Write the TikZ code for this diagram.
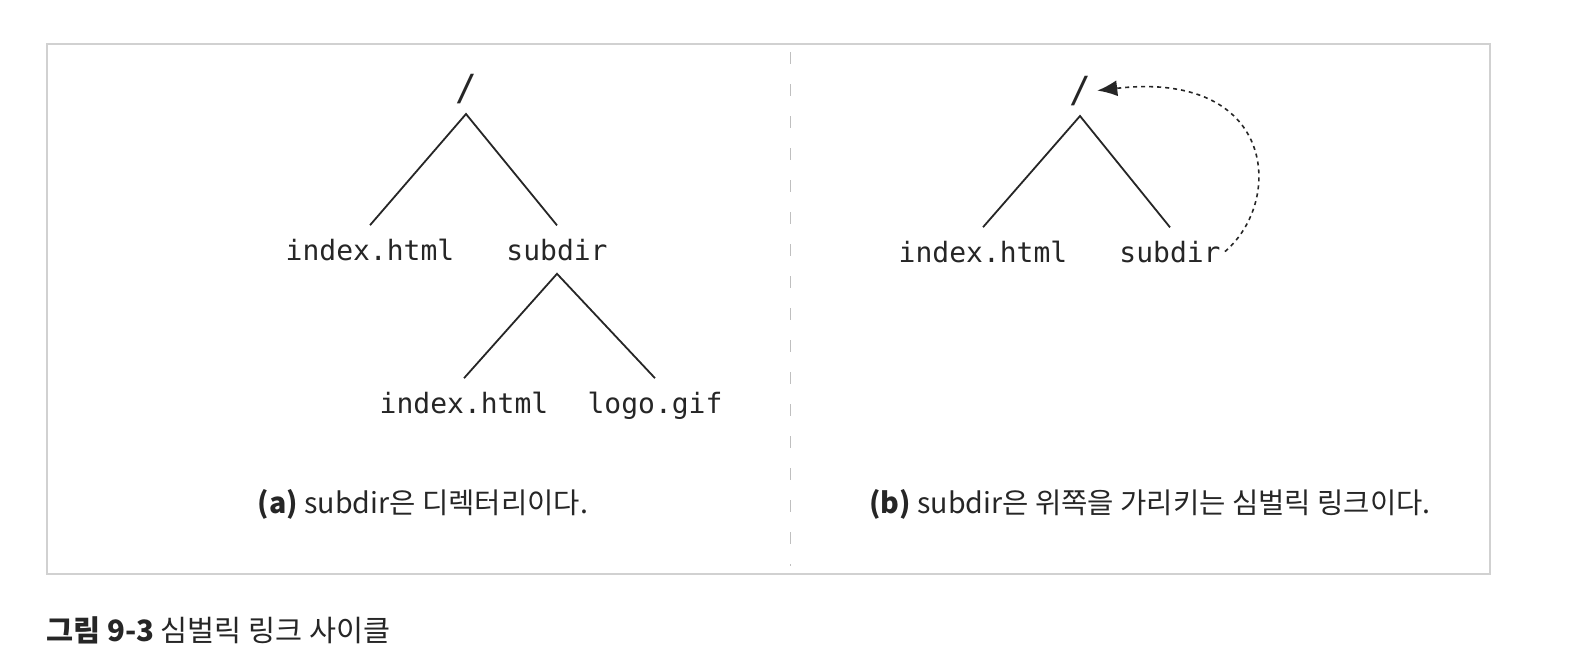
\documentclass[tikz,border=0pt]{standalone}
\usepackage{fontspec}
\usepackage{tikz}
\usetikzlibrary{arrows.meta,positioning}
\setmainfont{Noto Sans CJK KR}
\newfontfamily\codefont{DejaVu Sans Mono}

\tikzset{
  root/.style={font=\codefont\fontsize{18}{18}\selectfont, text=black!85, anchor=south, inner xsep=2pt, inner ysep=5pt},
  file/.style={font=\codefont\fontsize{14}{14}\selectfont, text=black!85, anchor=base, inner xsep=2pt, inner ysep=6.5pt},
  branch/.style={draw=black!85, line width=0.9pt},
  link/.style={draw=black!85, line width=0.8pt, dash pattern=on 2pt off 2pt, -{Latex[length=10pt,width=8pt]}, shorten >=1pt},
  caption/.style={font=\fontsize{14.3}{17}\selectfont, text=black!85, inner sep=0pt}
}

\begin{document}
\begin{tikzpicture}[x=0.5pt, y=-0.5pt]
    \useasboundingbox (0,0) rectangle (1582,671);

    % frame and divider
    \draw[draw=black!18, line width=0.6pt] (47,44) rectangle (1490,574);
    \draw[draw=black!25, line width=0.5pt, dash pattern=on 6pt off 10pt] (790,52) -- (790,566);

    % (a) directory
    \node[root] (rootA) at (466,114) {/};
    \node[file] (idxA) at (370,260) {index.html};
    \node[file] (subA) at (557,260) {subdir};
    \node[file] (idxA2) at (464,413) {index.html};
    \node[file] (logoA) at (655,413) {logo.gif};

    \draw[branch] (idxA.north) -- (rootA.south) -- (subA.north);
    \draw[branch] (idxA2.north) -- (subA.south) -- (logoA.north);

    % (b) symlink
    \node[root] (rootB) at (1080,116) {/};
    \node[file] (idxB) at (983,262) {index.html};
    \node[file] (subB) at (1170,262) {subdir};

    \draw[branch] (idxB.north) -- (rootB.south) -- (subB.north);
    \draw[link] (subB.east) .. controls (1285,200) and (1275,70) .. (rootB.east);

    % captions
    \node[caption] (capA) at (423,504) {\textbf{(a)} subdir은 디렉터리이다.};
    \node[caption] (capB) at (1150,504) {\textbf{(b)} subdir은 위쪽을 가리키는 심벌릭 링크이다.};
    \node[caption, anchor=west, font=\fontsize{14.7}{17}\selectfont] (figcap) at (46,630) {\textbf{그림 9-3} 심벌릭 링크 사이클};
\end{tikzpicture}
\end{document}
